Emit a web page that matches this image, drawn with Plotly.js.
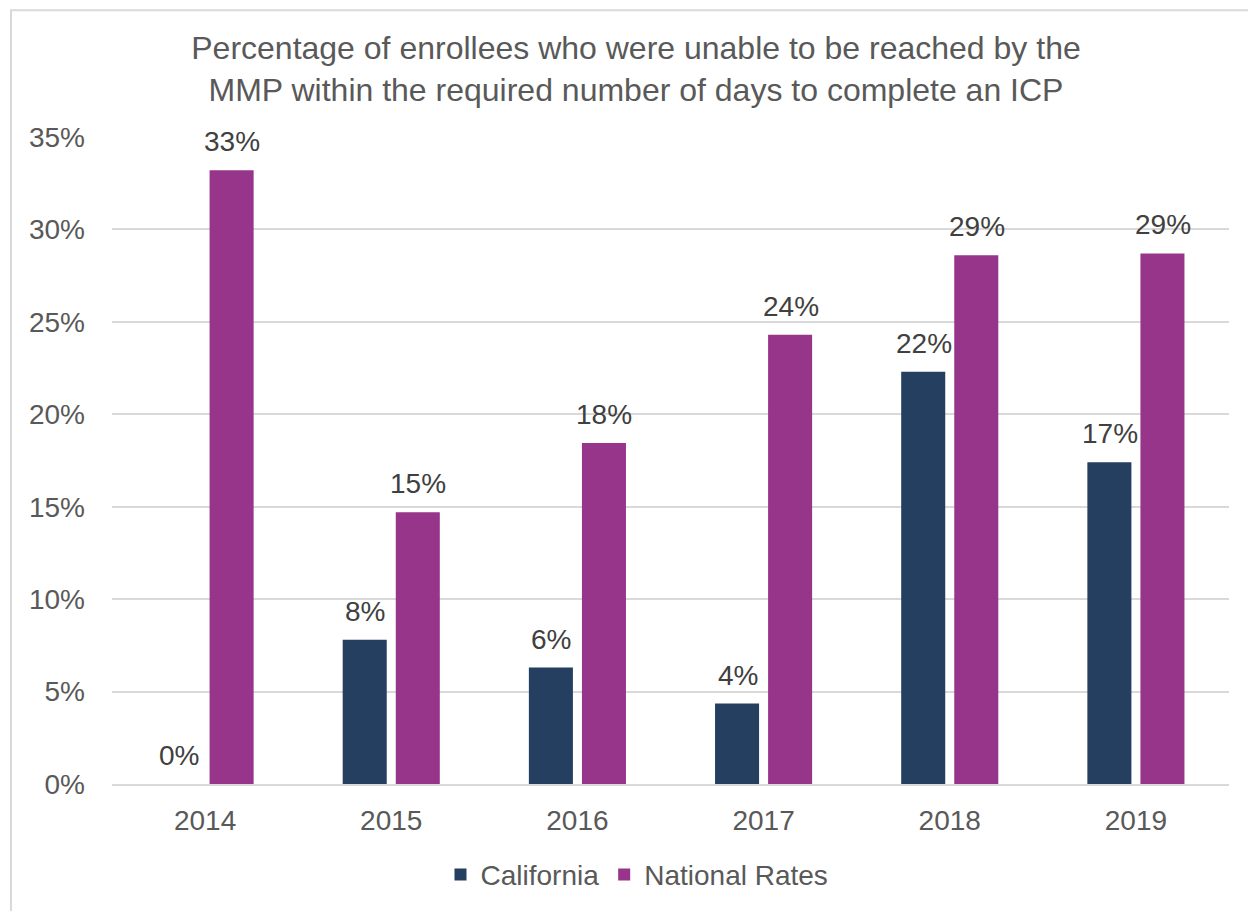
<!DOCTYPE html>
<html>
<head>
<meta charset="utf-8">
<script src="https://cdn.plot.ly/plotly-3.0.1.min.js"></script>
<style>html,body{margin:0;padding:0;background:#fff;overflow:hidden}#chart{width:1248px;height:911px}</style>
</head>
<body>
<div id="chart"></div>
<script>
const years = ['2014', '2015', '2016', '2017', '2018', '2019'];
const california = [0, 7.8, 6.3, 4.35, 22.3, 17.4];
const national = [33.2, 14.7, 18.45, 24.3, 28.6, 28.7];
const seriesNames = ['California', 'National Rates'];
const yTicks = [0, 5, 10, 15, 20, 25, 30, 35];
const titleText = 'Percentage of enrollees who were unable to be reached by the<br>MMP within the required number of days to complete an ICP';

const colCA = '#243F60';
const colNat = '#963589';
const font = 'Arial, "Liberation Sans", sans-serif';

const traces = [
  {type: 'bar', name: seriesNames[0], x: years, y: california, marker: {color: colCA}, hoverinfo: 'none'},
  {type: 'bar', name: seriesNames[1], x: years, y: national, marker: {color: colNat}, hoverinfo: 'none'}
];

const annotations = [];
[[california, -26], [national, 27]].forEach(([vals, dx]) => {
  vals.forEach((v, i) => {
    annotations.push({
      x: i, y: v, xref: 'x', yref: 'y', text: Math.round(v) + '%',
      showarrow: false, xshift: dx, yanchor: 'bottom', yshift: 11,
      font: {family: font, size: 28, color: '#404040'}
    });
  });
});

const layout = {
  width: 1248, height: 911,
  margin: {l: 112, r: 19, t: 137, b: 126},
  paper_bgcolor: '#ffffff', plot_bgcolor: '#ffffff',
  font: {family: font, size: 28, color: '#595959'},
  title: {text: titleText, x: 0.5096, xref: 'container', xanchor: 'center', y: 0.935, yref: 'container', yanchor: 'top',
          font: {family: font, size: 32, color: '#595959'}},
  barmode: 'group', bargap: 0.43, bargroupgap: 0.17,
  xaxis: {type: 'category', range: [-0.5, 5.5], autorange: false, showgrid: false, showline: true, linecolor: '#d9d9d9', linewidth: 2, ticks: '',
          tickfont: {family: font, size: 28, color: '#595959'}, ticklabelstandoff: 10},
  yaxis: {range: [0, 35], autorange: false, tickvals: yTicks, ticktext: yTicks.map(v => v + '%'), showgrid: true, gridcolor: '#d9d9d9', gridwidth: 2,
          zeroline: false, showline: false, ticks: '', tickfont: {family: font, size: 28, color: '#595959'}, ticklabelstandoff: 26},
  showlegend: true,
  legend: {orientation: 'h', x: 0.47, xanchor: 'center', y: -0.1, yanchor: 'top', font: {family: font, size: 28, color: '#595959'},
           itemwidth: 30, tracegroupgap: 0},
  annotations: annotations,
  shapes: [{type: 'rect', xref: 'paper', yref: 'paper', x0: -0.0904, x1: 1.05, y0: -0.3, y1: 1.196,
            line: {color: '#d9d9d9', width: 2}, fillcolor: 'rgba(0,0,0,0)', layer: 'below'}]
};

Plotly.newPlot('chart', traces, layout, {displayModeBar: false, staticPlot: true});
</script>
</body>
</html>
